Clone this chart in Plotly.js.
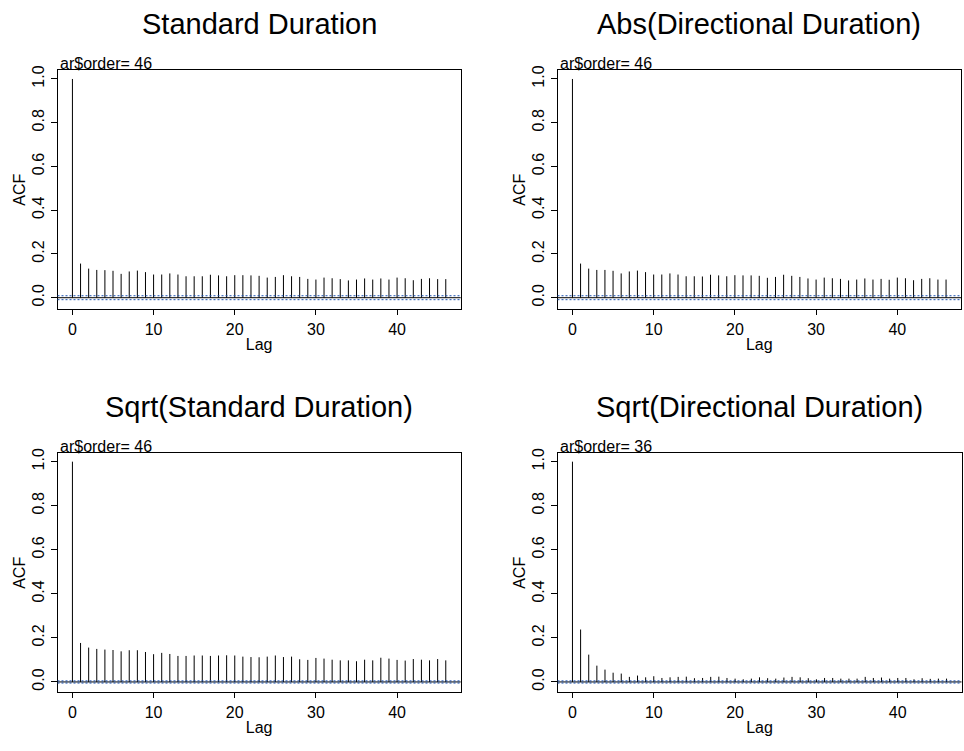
<!DOCTYPE html>
<html><head><meta charset="utf-8">
<script src="https://cdn.plot.ly/plotly-3.0.1.min.js"></script>
<style>html,body{margin:0;padding:0;background:#fff}#chart{width:964px;height:751px}</style>
</head><body><div id="chart"></div>
<script>
const lags = [0,1,2,3,4,5,6,7,8,9,10,11,12,13,14,15,16,17,18,19,20,21,22,23,24,25,26,27,28,29,30,31,32,33,34,35,36,37,38,39,40,41,42,43,44,45,46];
const acfStandard = [1.000,0.156,0.133,0.127,0.126,0.123,0.109,0.120,0.124,0.117,0.106,0.106,0.111,0.106,0.098,0.098,0.098,0.105,0.102,0.098,0.103,0.103,0.102,0.100,0.092,0.095,0.103,0.098,0.095,0.086,0.083,0.092,0.089,0.085,0.079,0.083,0.088,0.083,0.088,0.083,0.092,0.089,0.080,0.086,0.089,0.085,0.085];
const acfAbsDirectional = [1.000,0.156,0.133,0.127,0.127,0.123,0.111,0.120,0.124,0.117,0.106,0.106,0.111,0.106,0.098,0.098,0.097,0.105,0.102,0.098,0.103,0.102,0.102,0.100,0.091,0.095,0.105,0.100,0.095,0.088,0.083,0.092,0.089,0.086,0.079,0.083,0.088,0.083,0.086,0.082,0.092,0.089,0.080,0.086,0.089,0.083,0.083];
const acfSqrtStandard = [1.000,0.177,0.156,0.150,0.147,0.145,0.139,0.144,0.144,0.136,0.126,0.132,0.127,0.118,0.118,0.120,0.120,0.118,0.120,0.121,0.120,0.115,0.113,0.112,0.115,0.120,0.113,0.115,0.103,0.100,0.109,0.106,0.101,0.098,0.098,0.094,0.101,0.098,0.110,0.106,0.100,0.097,0.104,0.101,0.098,0.104,0.098];
const acfSqrtDirectional = [1.000,0.238,0.124,0.074,0.056,0.042,0.038,0.023,0.029,0.021,0.026,0.018,0.021,0.023,0.024,0.017,0.018,0.023,0.024,0.018,0.015,0.012,0.015,0.021,0.017,0.015,0.020,0.023,0.021,0.017,0.012,0.018,0.018,0.015,0.015,0.015,0.023,0.018,0.020,0.015,0.018,0.018,0.012,0.017,0.014,0.015,0.015];
const panelTitles = ["Standard Duration","Abs(Directional Duration)","Sqrt(Standard Duration)","Sqrt(Directional Duration)"];
const arOrders = [46,46,46,36];
const ciBounds = [0.009,0.009,0.005,0.005];
const xTickVals = [0,10,20,30,40];
const yTickVals = [0,0.2,0.4,0.6,0.8,1.0];
const yTickText = ["0.0","0.2","0.4","0.6","0.8","1.0"];

const series = [acfStandard, acfAbsDirectional, acfSqrtStandard, acfSqrtDirectional];
const W = 964, H = 751;
const xDomains = [[57.5/W, 460.7/W],[557.5/W, 961/W],[57.5/W, 460.7/W],[557.5/W, 961.5/W]];
const yDomains = [[1-309.3/H, 1-70/H],[1-309.3/H, 1-70/H],[1-692.3/H, 1-453.3/H],[1-692.3/H, 1-453.3/H]];
const yRanges = [[-0.053,1.041],[-0.053,1.041],[-0.047,1.038],[-0.047,1.038]];
const titleY = [1-24/H, 1-24/H, 1-407/H, 1-407/H];
const FONT = "Liberation Sans, Arial, sans-serif";

const traces = [], shapes = [], annotations = [];
const layout = {
  width: W, height: H, margin: {l:0,r:0,t:0,b:0},
  paper_bgcolor: "#fff", plot_bgcolor: "#fff", showlegend: false,
  font: {family: FONT, size: 16, color: "#000"}
};
series.forEach((acf, i) => {
  const n = i === 0 ? "" : String(i+1);
  const xa = "x" + n, ya = "y" + n;
  const xs = [], ys = [];
  lags.forEach((l, k) => { xs.push(l, l, null); ys.push(0, acf[k], null); });
  traces.push({type: "scatter", mode: "lines", x: xs, y: ys, xaxis: xa, yaxis: ya,
    line: {color: "#000", width: 1}, hoverinfo: "skip"});
  layout["xaxis" + n] = {
    domain: xDomains[i], anchor: ya, range: [-1.84, 47.84],
    tickmode: "array", tickvals: xTickVals, ticks: "outside", ticklen: 5, tickwidth: 1, tickcolor: "#000",
    showline: true, mirror: true, linecolor: "#000", linewidth: 1,
    showgrid: false, zeroline: false, tickfont: {size: 16, family: FONT},
    title: {text: "Lag", font: {size: 16, family: FONT}, standoff: 2}
  };
  layout["yaxis" + n] = {
    domain: yDomains[i], anchor: xa, range: yRanges[i],
    tickmode: "array", tickvals: yTickVals, ticktext: yTickText, tickangle: -90,
    ticks: "outside", ticklen: 6, tickwidth: 1, tickcolor: "#000",
    showline: true, mirror: true, linecolor: "#000", linewidth: 1,
    showgrid: false, zeroline: false, tickfont: {size: 16, family: FONT},
    title: {text: "ACF", font: {size: 16, family: FONT}, standoff: 0}
  };
  shapes.push({type: "line", xref: xa + " domain", yref: ya, x0: 0, x1: 1, y0: 0, y1: 0,
    line: {color: "#000", width: 1}});
  [ciBounds[i], -ciBounds[i]].forEach(c => shapes.push({type: "line", xref: xa + " domain", yref: ya,
    x0: 0, x1: 1, y0: c, y1: c, line: {color: "#1a50b0", width: 1, dash: "2px,2px"}}));
  annotations.push({xref: "paper", yref: "paper", x: (xDomains[i][0]+xDomains[i][1])/2, y: titleY[i],
    xanchor: "center", yanchor: "middle", showarrow: false, text: panelTitles[i],
    font: {size: 29, family: FONT, color: "#000"}});
  annotations.push({xref: xa + " domain", yref: ya + " domain", x: 0, y: 1, xanchor: "left", yanchor: "bottom",
    yshift: -4, showarrow: false, text: "ar$order= " + arOrders[i],
    font: {size: 16, family: FONT, color: "#000"}});
});
layout.shapes = shapes;
layout.annotations = annotations;
Plotly.newPlot("chart", traces, layout, {staticPlot: true, displayModeBar: false});
</script></body></html>
